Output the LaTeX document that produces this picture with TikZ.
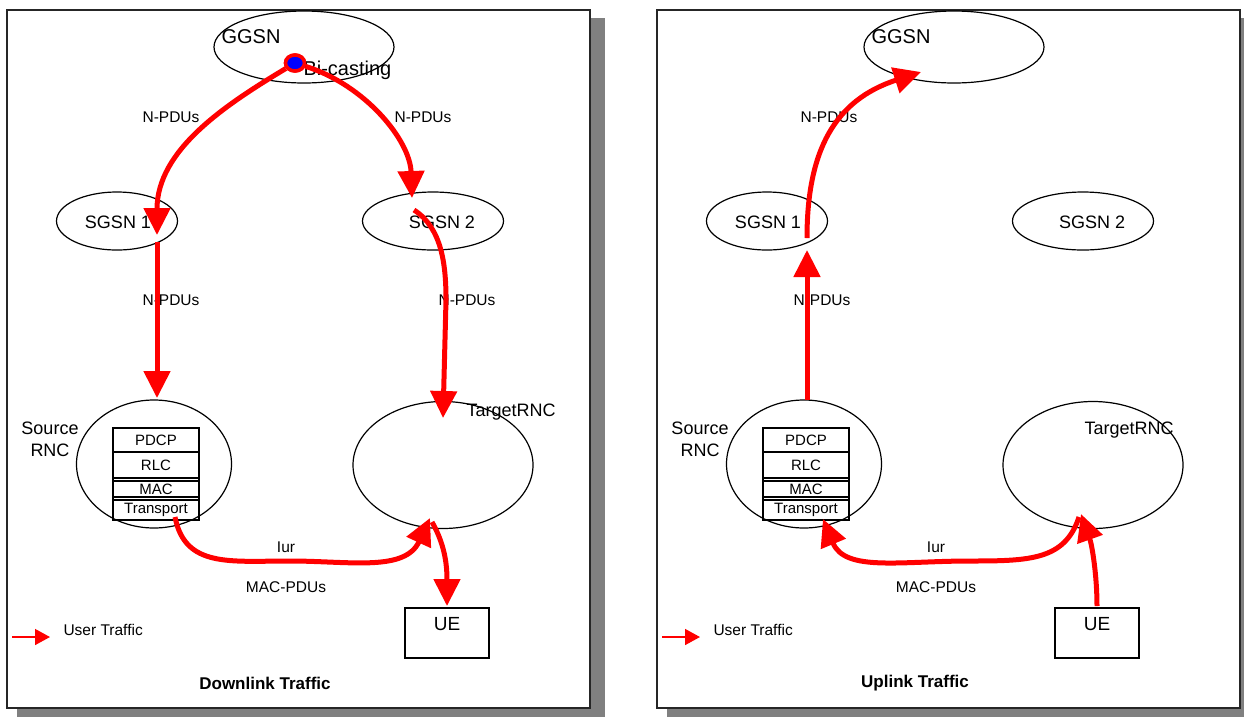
\documentclass[tikz,border=0pt]{standalone}
\usepackage{fontspec}
\setmainfont{Liberation Sans}
\usetikzlibrary{shapes.geometric,arrows.meta}

\tikzstyle{panel}=[draw=black!85,line width=2.5pt,fill=white]
\tikzstyle{panel shadow}=[fill=black!50]
\tikzstyle{net}=[draw,ellipse,line width=1.2pt,inner sep=0pt]
\tikzstyle{layer}=[draw,line width=1.2pt,minimum width=86pt,inner sep=0pt,font=\fontsize{15}{15}\selectfont]
\tikzstyle{box}=[draw,line width=1.2pt,inner sep=0pt]
\tikzstyle{traffic}=[draw=red,line width=5pt,-{Triangle[length=27pt,width=26pt]}]
\tikzstyle{legend}=[draw=red,line width=1.5pt,-{Triangle[length=15pt,width=16pt]}]
\tikzstyle{small}=[font=\fontsize{15.5}{18}\selectfont]
\tikzstyle{mid}=[font=\fontsize{18}{22}\selectfont]
\tikzstyle{big}=[font=\fontsize{20}{22}\selectfont]
\tikzstyle{heading}=[font=\bfseries\fontsize{17}{20}\selectfont]

\begin{document}
\begin{tikzpicture}[x=1pt,y=-1pt]
  \useasboundingbox (0,0) rectangle (1244,716);
  \clip (0,0) rectangle (1244,716);

  % We draw the two frames with the nodes they share
  \foreach \dx/\p/\head/\tx/\ty in {0/dl/Downlink Traffic/463/412, 650/ul/Uplink Traffic/431/430} {
    \begin{scope}[xshift=\dx]
      \fill[panel shadow] (17,18) rectangle (605,720);
      \draw[panel] (7,10) rectangle (590,708);

      \node[net,minimum width=180pt,minimum height=72pt] (\p-ggsn) at (304,47) {};
      \node[big] (\p-ggsn-label) at (251,37) {GGSN};
      \node[net,minimum width=121pt,minimum height=58pt] (\p-sgsn1) at (117,221) {};
      \node[mid] (\p-sgsn1-label) at (118,222) {SGSN 1};
      \node[net,minimum width=141pt,minimum height=58pt] (\p-sgsn2) at (433,221) {};
      \node[mid] (\p-sgsn2-label) at (442,222) {SGSN 2};
      \node[net,minimum width=155pt,minimum height=128pt] (\p-src) at (154,464) {};
      \node[mid,align=center] (\p-src-label) at (50,439) {Source\\RNC};
      \node[net,minimum width=180pt,minimum height=127pt] (\p-tgt) at (443,465) {};
      \node[mid,anchor=west] (\p-tgt-label) at (\tx,\ty) {TargetRNC};
      \node[box,minimum width=84pt,minimum height=50pt] (\p-ue) at (447,633) {};
      \node[font=\fontsize{19}{22}\selectfont] (\p-ue-label) at (447,624) {UE};

      % the protocol stack of the source RNC
      \draw[line width=1.2pt] (113,428) rectangle (199,520);
      \foreach \y/\h/\name/\lay in {440/24/PDCP/pdcp, 465/26/RLC/rlc, 489/16/MAC/mac, 510/20/Transport/trans}
        \node[layer,minimum height=\h pt] (\p-\lay) at (156,\y) {\name};

      \node[small] (\p-iur) at (286,547) {Iur};
      \node[small] (\p-macpdu) at (286,587) {MAC-PDUs};
      \node[heading] (\p-head) at (265,683) {\head};

      % legend
      \coordinate (\p-ut0) at (12,637);
      \coordinate (\p-ut1) at (50,637);
      \draw[legend] (\p-ut0) -- (\p-ut1);
      \node[small,anchor=west] (\p-ut-label) at (60,630) {User Traffic};
    \end{scope}
  }

  % Downlink: bi-casting from the GGSN
  \node[small] (dl-npdu1) at (171,117) {N-PDUs};
  \node[small] (dl-npdu2) at (423,117) {N-PDUs};
  \node[small] (dl-npdu3) at (171,300) {N-PDUs};
  \node[small] (dl-npdu4) at (467,300) {N-PDUs};
  \node[big,anchor=west] (dl-bicast-label) at (300,70) {Bi-casting};

  \coordinate (dl-s1tip) at (157,235);
  \coordinate (dl-s2tip) at (412,198);
  \coordinate (dl-s1out) at (157,242);
  \coordinate (dl-srctip) at (157,398);
  \coordinate (dl-s2out) at (414,210);
  \coordinate (dl-bend) at (446,300);
  \coordinate (dl-tgttip) at (443,418);
  \coordinate (dl-transout) at (175,517);
  \coordinate (dl-iurmid) at (290,561);
  \coordinate (dl-tgtin) at (430,518);
  \coordinate (dl-tgtout) at (432,522);
  \coordinate (dl-uetip) at (447,606);

  \node[ellipse,draw=red,line width=3.5pt,fill=blue,minimum width=19pt,minimum height=16pt,inner sep=0pt] (bicast) at (295,63) {};

  \path[traffic] (bicast) .. controls (225,105) and (157,150) .. (dl-s1tip);
  \path[traffic] (bicast) .. controls (365,85) and (410,140) .. (dl-s2tip);
  \path[traffic] (dl-s1out) -- (dl-srctip);
  \path[traffic] (dl-s2out) .. controls (442,228) and (446,265) .. (dl-bend) -- (dl-tgttip);
  \path[traffic] (dl-transout) .. controls (185,568) and (230,561) .. (dl-iurmid)
    .. controls (350,561) and (405,572) .. (dl-tgtin);
  \path[traffic] (dl-tgtout) .. controls (445,545) and (447,565) .. (dl-uetip);

  \node[ellipse,draw=red,line width=3.5pt,fill=blue,minimum width=19pt,minimum height=16pt,inner sep=0pt] at (bicast) {};

  % Uplink: everything goes through the source RNC
  \node[small] (ul-npdu1) at (829,117) {N-PDUs};
  \node[small] (ul-npdu2) at (822,300) {N-PDUs};

  \coordinate (ul-srcout) at (807,400);
  \coordinate (ul-s1tip) at (807,250);
  \coordinate (ul-s1out) at (807,238);
  \coordinate (ul-ggsntip) at (921,72);
  \coordinate (ul-ueout) at (1097,606);
  \coordinate (ul-tgttip) at (1081,514);
  \coordinate (ul-tgtout) at (1079,517);
  \coordinate (ul-iurmid) at (970,561);
  \coordinate (ul-srctip) at (823,519);

  \path[traffic] (ul-srcout) -- (ul-s1tip);
  \path[traffic] (ul-s1out) .. controls (807,150) and (835,100) .. (ul-ggsntip);
  \path[traffic] (ul-ueout) .. controls (1097,575) and (1092,545) .. (ul-tgttip);
  \path[traffic] (ul-tgtout) .. controls (1065,560) and (1030,561) .. (ul-iurmid)
    .. controls (900,561) and (845,572) .. (ul-srctip);
\end{tikzpicture}
\end{document}
